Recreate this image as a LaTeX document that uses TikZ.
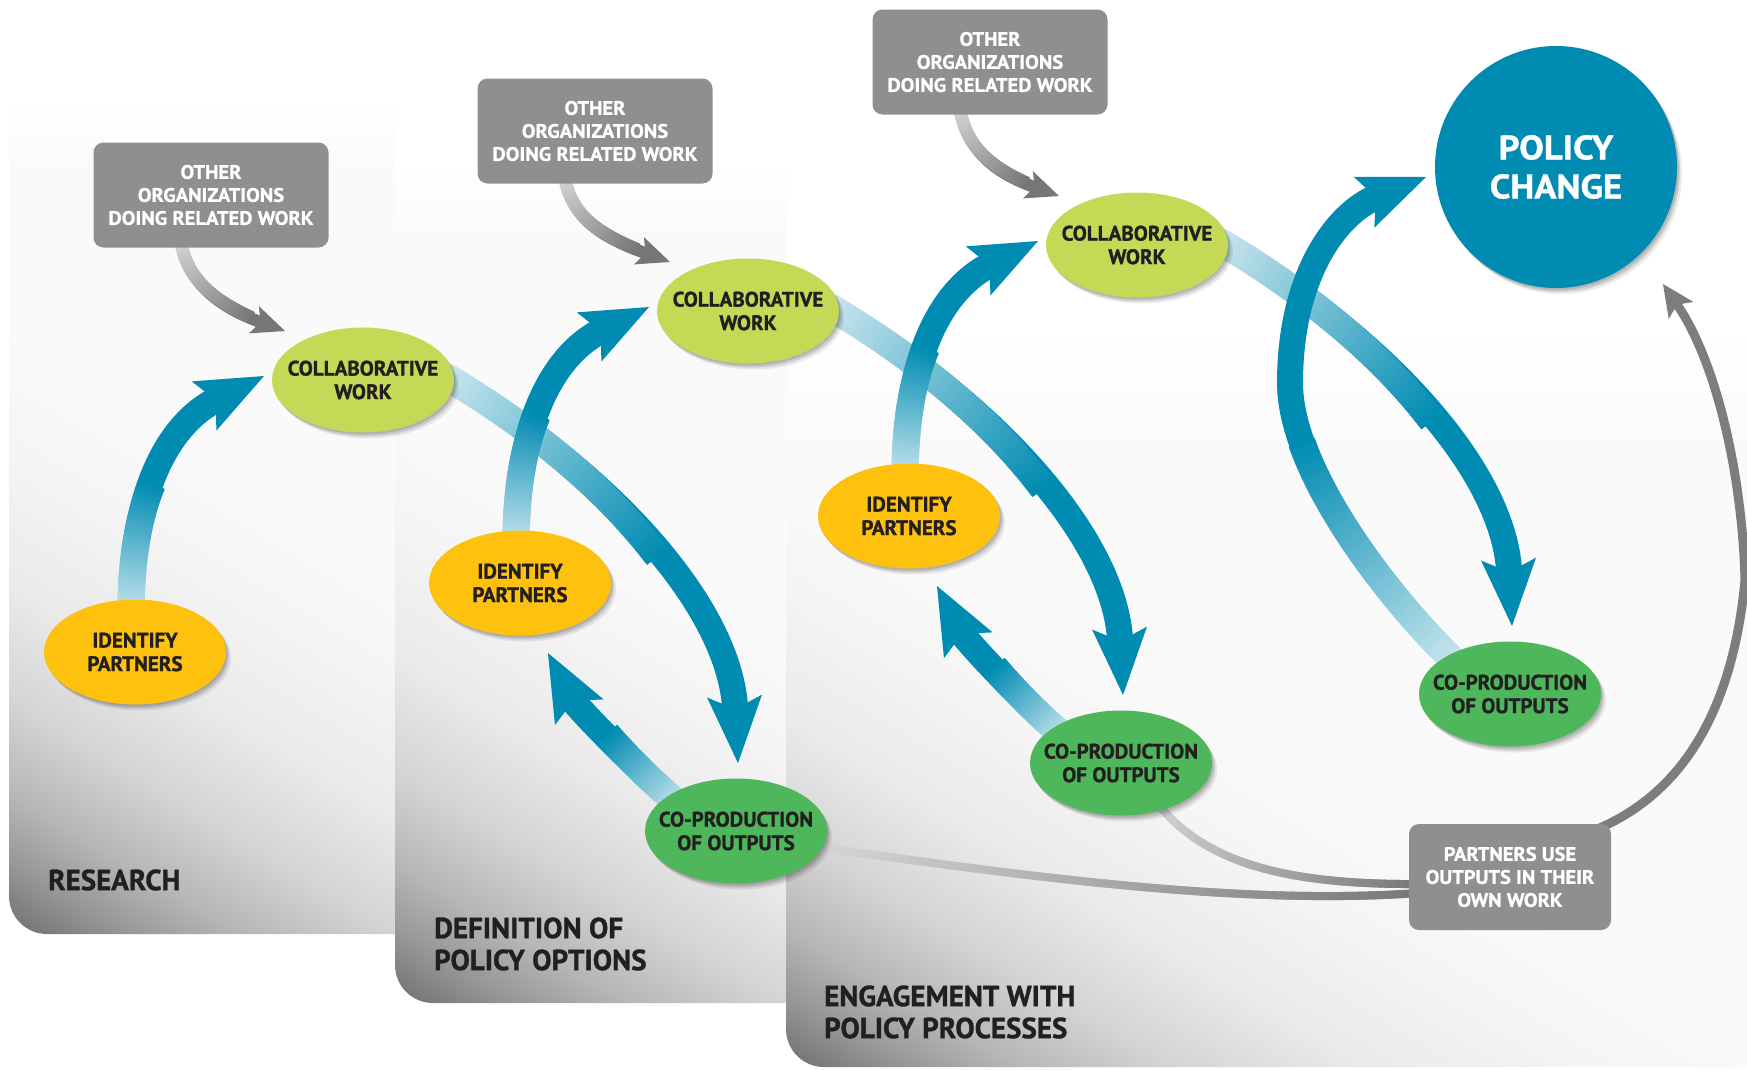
\documentclass[tikz,border=0pt]{standalone}
\usepackage{fontspec}
\setmainfont{PT Sans}
\newfontfamily\fEll{PT Sans}[FakeStretch=1.0,FakeBold=1.2]
\newfontfamily\fBox{PT Sans}[FakeStretch=1.05,FakeBold=1.0]
\newfontfamily\fLab{PT Sans}[FakeStretch=1.0,FakeBold=1.0]
\newfontfamily\fPol{PT Sans}[FakeStretch=1.08,FakeBold=1.0]
\usetikzlibrary{calc,arrows.meta,decorations.markings,shapes.geometric}

\definecolor{bD}{RGB}{0,139,178}
\definecolor{bL}{RGB}{200,229,238}
\definecolor{gD}{RGB}{118,118,118}
\definecolor{gL}{RGB}{212,212,212}
\definecolor{gA}{RGB}{125,125,125}
\definecolor{cG}{RGB}{196,218,86}
\definecolor{iY}{RGB}{254,194,14}
\definecolor{pG}{RGB}{78,183,92}
\definecolor{boxG}{RGB}{143,143,143}
\definecolor{txt}{RGB}{35,31,32}
\definecolor{pf0}{RGB}{100,100,100}
\definecolor{pf1}{RGB}{110,110,110}
\definecolor{pf2}{RGB}{150,150,150}
\definecolor{pf3}{RGB}{182,182,182}
\definecolor{pf4}{RGB}{212,212,212}
\definecolor{pf5}{RGB}{234,234,234}
\definecolor{pf6}{RGB}{245,245,245}
\definecolor{pf7}{RGB}{250,250,250}

\pgfdeclareverticalshading{panelfade}{100bp}{color(0bp)=(pf0); color(49bp)=(pf0); color(50bp)=(pf1); color(51.5bp)=(pf2); color(53bp)=(pf3); color(55bp)=(pf4); color(57.5bp)=(pf5); color(60.5bp)=(pf6); color(63bp)=(pf7); color(100bp)=(pf7)}

\pgfdeclarelayer{arl}
\pgfsetlayers{arl,main}

\newcommand\myGradmark[4]{%
  \pgfmathtruncatemacro\gp{min(100,((\pgfkeysvalueof{/pgf/decoration/mark info/distance from start})/(#4*\pgfdecoratedpathlength))*100)}%
  \colorlet{gcol}{#2!\gp!#1}%
  \fill[gcol] (-1.1pt,-#3) rectangle (1.1pt,#3);%
}
\newcommand\myBarrow[2]{%
  \draw[line width=26pt, bD, -{Stealth[length=67pt,width=55pt,inset=13pt,line width=0pt]}] #2;
  \path[decoration={markings, mark=between positions 0 and #1 step 1.2pt with {\myGradmark{bL}{bD}{13.6pt}{#1}}}, decorate] #2;
}
\newcommand\myGarrow[1]{%
  \draw[line width=12pt, gD, -{Stealth[length=33pt,width=29pt,inset=7pt,line width=0pt]}] #1;
  \path[decoration={markings, mark=between positions 0 and 0.75 step 1.2pt with {\myGradmark{gL}{gD}{6.4pt}{0.75}}}, decorate] #1;
}
\newcommand\myGline[1]{%
  \path[decoration={markings, mark=between positions 0 and 1 step 1.2pt with {\myGradmark{gL}{gD}{4pt}{1}}}, decorate] #1;
}
% #1 left, #2 right, #3 bottom, #4 top of fade-in, #5 end of fade-in
\newcommand\myPanel[5]{%
  \begin{scope}
    \clip (#1,-5) -- (#1,#3-38) arc[start angle=180,end angle=90,radius=38] -- (#2,#3) -- (#2,-5) -- cycle;
    \shade[shading=panelfade, shading angle=-31] (#1-1000,#3-1000) rectangle (#1+1000,#3+1000);
    \fill[white] (#1-1,-5) rectangle (#2+1,#4);
    \shade[top color=white, bottom color=pf7] (#1-1,#4) rectangle (#2+1,#5);
  \end{scope}}

\tikzset{
  softshadow/.style={
    preaction={fill=black, opacity=0.08, transform canvas={xshift=5pt,yshift=-6pt}},
    preaction={fill=black, opacity=0.12, transform canvas={xshift=3pt,yshift=-4pt}},
    preaction={fill=black, opacity=0.12, transform canvas={xshift=1.5pt,yshift=-2pt}}},
  ell/.style={ellipse, minimum width=182pt, minimum height=105pt, inner xsep=-45pt, inner ysep=-22pt,
    align=center, text=txt, font=\fontsize{21}{23.5}\fEll\bfseries, softshadow},
  obox/.style={rectangle, rounded corners=10pt, fill=boxG, minimum width=235pt, minimum height=105pt,
    inner sep=0pt, align=center, text=white, font=\fontsize{19.5}{23}\fBox\bfseries},
  plab/.style={anchor=west, align=left, text=txt, inner sep=0pt, font=\fontsize{29}{32}\fLab\bfseries},
}

\begin{document}
\begin{tikzpicture}[x=1pt,y=-1pt]
\useasboundingbox (0,0) rectangle (1747,1069);

% nodes
\node[ell, fill=cG] (c1) at (363,380) {COLLABORATIVE\\WORK};
\node[ell, fill=cG] (c2) at (748,311) {COLLABORATIVE\\WORK};
\node[ell, fill=cG] (c3) at (1137,245) {COLLABORATIVE\\WORK};
\node[ell, fill=iY] (i1) at (135,652) {IDENTIFY\\PARTNERS};
\node[ell, fill=iY] (i2) at (520,583) {IDENTIFY\\PARTNERS};
\node[ell, fill=iY] (i3) at (909,516) {IDENTIFY\\PARTNERS};
\node[ell, fill=pG] (p1) at (736,831) {CO-PRODUCTION\\OF OUTPUTS};
\node[ell, fill=pG] (p2) at (1121,763) {CO-PRODUCTION\\OF OUTPUTS};
\node[ell, fill=pG] (p3) at (1510,694) {CO-PRODUCTION\\OF OUTPUTS};
\node[circle, fill=bD, minimum size=242pt, inner sep=0pt, align=center, text=white,
  font=\fontsize{34}{39}\fPol\bfseries, softshadow] (pc) at (1556,167) {POLICY\\CHANGE};
\node[obox] (o1) at (211,195) {OTHER\\ORGANIZATIONS\\DOING RELATED WORK};
\node[obox] (o2) at (595,131) {OTHER\\ORGANIZATIONS\\DOING RELATED WORK};
\node[obox] (o3) at (990,62) {OTHER\\ORGANIZATIONS\\DOING RELATED WORK};
\node[obox, minimum width=202pt, minimum height=106pt] (pu) at (1510,877) {PARTNERS USE\\OUTPUTS IN THEIR\\OWN WORK};
\node[plab] (lres) at (48,880) {RESEARCH};
\node[plab] (ldef) at (434,944) {DEFINITION OF\\POLICY OPTIONS};
\node[plab] (leng) at (824,1012) {ENGAGEMENT WITH\\POLICY PROCESSES};

\begin{pgfonlayer}{arl}
  % panels
  \myPanel{9}{400}{934}{100}{170}
  \myPanel{395}{790}{1003}{160}{240}
  \myPanel{786}{1760}{1067}{330}{450}
  % gray lines into partners box
  \myGline{($(p1)+(89,17)$) .. controls +(225,32) and +(-170,12) .. ($(pu.west)+(10,16)$)}
  \myGline{($(p2)+(34,37)$) .. controls +(45,60) and +(-140,1) .. ($(pu.west)+(10,7)$)}
  % partners -> policy change
  \draw[line width=9pt, gA, -{Stealth[length=32pt,width=30pt,inset=7pt,line width=0pt]}]
    ($(pu)+(80,-45)$) .. controls +(70,-27) and +(-15,160) .. ($(pc)+(189,413)$)
    .. controls +(-3,-110) and +(52,76) .. ($(pc)+(107,117)$);
  % collaborative -> co-production
  \myBarrow{0.55}{($(c1)+(82,-4)$) .. controls +(172,102) and +(-8,-153) .. ($(p1)+(2,-68)$)}
  \myBarrow{0.55}{($(c2)+(82,-4)$) .. controls +(172,102) and +(-8,-153) .. ($(p2)+(2,-68)$)}
  \myBarrow{0.55}{($(c3)+(82,-4)$) .. controls +(172,102) and +(-8,-153) .. ($(p3)+(2,-68)$)}
  % co-production -> identify
  \myBarrow{0.5}{($(p1)+(-56,-26)$) .. controls +(-39,-31) and +(28,53) .. ($(i2)+(28,70)$)}
  \myBarrow{0.5}{($(p2)+(-56,-26)$) .. controls +(-39,-31) and +(28,53) .. ($(i3)+(28,70)$)}
  % identify -> collaborative
  \myBarrow{0.45}{($(i1)+(-4,-38)$) .. controls +(0,-155) and +(-74,37) .. ($(c1)+(-99,-4)$)}
  \myBarrow{0.45}{($(i2)+(-4,-38)$) .. controls +(0,-155) and +(-74,37) .. ($(c2)+(-99,-4)$)}
  \myBarrow{0.45}{($(i3)+(-4,-38)$) .. controls +(0,-155) and +(-74,37) .. ($(c3)+(-99,-4)$)}
  % co-production -> policy change
  \myBarrow{0.45}{($(p3)+(-55,-32)$) .. controls +(-65,-62) and +(-2,90) .. ($(pc)+(-266,213)$) .. controls +(1,-110) and +(-86,35) .. ($(pc)+(-130,10)$)}
  % other organizations -> collaborative
  \myGarrow{($(o1.south)+(-30,-5)$) .. controls +(8,45) and +(-58,-21) .. ($(c1)+(-78,-49)$)}
  \myGarrow{($(o2.south)+(-30,-5)$) .. controls +(8,45) and +(-58,-21) .. ($(c2)+(-78,-49)$)}
  \myGarrow{($(o3.south)+(-30,-5)$) .. controls +(8,45) and +(-58,-21) .. ($(c3)+(-78,-49)$)}
\end{pgfonlayer}
\end{tikzpicture}
\end{document}
